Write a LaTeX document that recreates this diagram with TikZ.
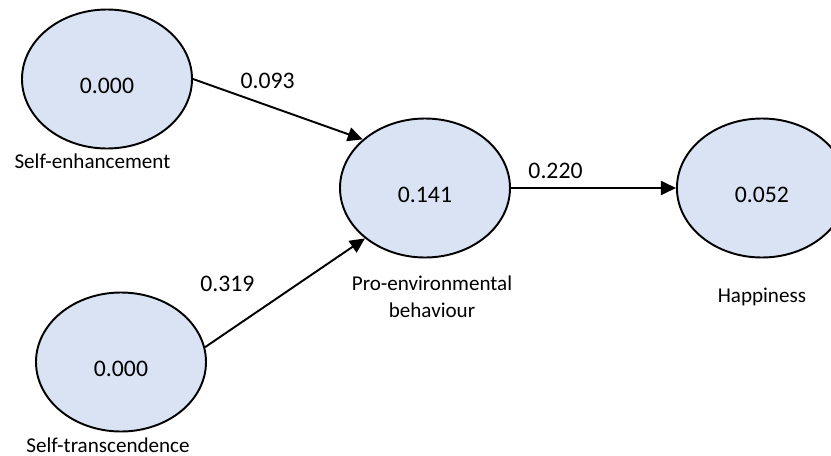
\documentclass[tikz,border=0pt]{standalone}
\usepackage{fontspec}
\setmainfont{Carlito}
\usetikzlibrary{arrows.meta,positioning,shapes.geometric}
\definecolor{lat}{HTML}{DAE3F3}
\definecolor{ink}{HTML}{000000}
\tikzset{
  lv/.style={ellipse,draw=ink,fill=lat,line width=1.1pt,minimum width=3.4cm,minimum height=2.78cm,
             font=\fontsize{13.5}{16}\selectfont,text height=0.58cm,text depth=0pt},
  reg/.style={-{Triangle[length=0.3cm,width=0.28cm]},line width=1.1pt,draw=ink},
  coef/.style={font=\fontsize{13.5}{16}\selectfont},
  lvname/.style={font=\fontsize{12}{15.4}\selectfont,align=center,inner sep=0pt},
}

\begin{document}
\begin{tikzpicture}
  \useasboundingbox (0,0) rectangle (16.62,-9.12);
  \node[lv] (pe) at (8.5,-3.76) {0.141};
  \node[lv,right=3.3cm of pe] (hp) {0.052};
  \node[lv] (se) at (2.14,-1.58) {0.000};
  \node[lv] (st) at (2.42,-7.24) {0.000};
  \node[lvname,below=0.08cm of se,xshift=-0.29cm] (sel) {Self-enhancement};
  \node[lvname,below=0.1cm of st,xshift=-0.26cm] (stl) {Self-transcendence};
  \node[lvname,below=0.34cm of pe,xshift=0.14cm] (pel) {Pro-environmental\\behaviour};
  \node[lvname,below=0.58cm of hp] (hpl) {Happiness};
  \draw[reg] (se.east) -- node[coef,pos=0.44,above=0.21cm] (b1) {0.093} (pe.142);
  \draw[reg] (st.10) -- node[coef,pos=0.14,above=0.66cm] (b2) {0.319} (pe.220);
  \draw[reg] (pe.east) -- node[coef,pos=0.27,above=0.05cm] (b3) {0.220} (hp.west);
\end{tikzpicture}
\end{document}
